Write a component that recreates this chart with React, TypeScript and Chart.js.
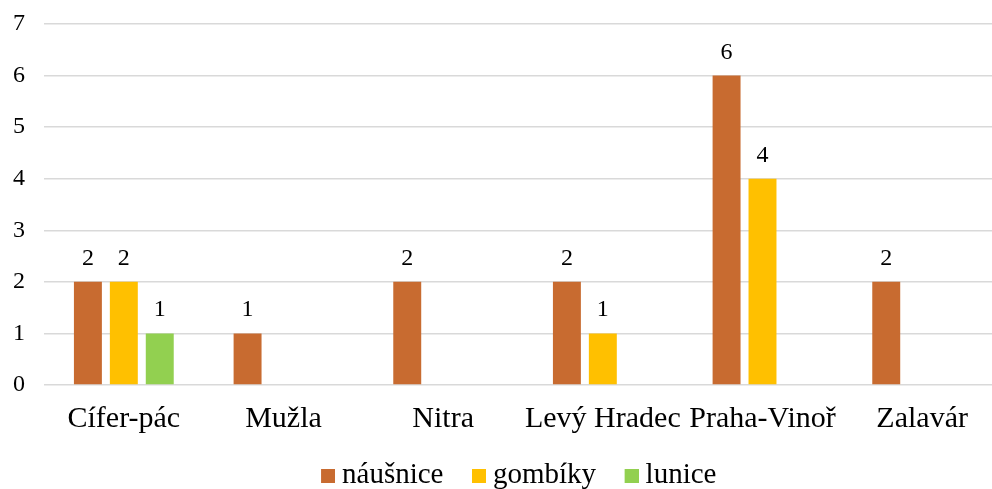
import React, { useEffect, useRef } from "react";
import { Chart, registerables } from "chart.js";

Chart.register(...registerables);

const categories = ["Cífer-pác", "Mužla", "Nitra", "Levý Hradec", "Praha-Vinoř", "Zalavár"];
const nausnice = [2, 1, 2, 2, 6, 2];
const gombiky = [2, null, null, 1, 4, null];
const lunice = [1, null, null, null, null, null];
const seriesNames = ["náušnice", "gombíky", "lunice"];
const seriesColors = ["#C86B30", "#FFC000", "#92D050"];

const FONT = "'Liberation Serif', 'Times New Roman', serif";

const valueLabels = {
  id: "valueLabels",
  afterDatasetsDraw(chart: any) {
    const ctx = chart.ctx;
    ctx.save();
    ctx.font = `24px ${FONT}`;
    ctx.fillStyle = "#000";
    ctx.textAlign = "center";
    ctx.textBaseline = "alphabetic";
    chart.data.datasets.forEach((ds: any, i: number) => {
      const meta = chart.getDatasetMeta(i);
      meta.data.forEach((bar: any, j: number) => {
        const v = ds.data[j];
        if (v === null || v === undefined) return;
        ctx.fillText(String(v), bar.x, bar.y - 17);
      });
    });
    ctx.restore();
  },
};

const legendShift = {
  id: "legendShift",
  afterLayout(chart: any) {
    if (chart.legend) {
      chart.legend.left += 33;
    }
  },
};

// swatch image: transparent left part, 14px coloured square at the right
function swatch(color: string) {
  const c = document.createElement("canvas");
  c.width = 24;
  c.height = 14;
  const g = c.getContext("2d")!;
  g.fillStyle = color;
  g.fillRect(10, 0, 14, 14);
  return c;
}

export default function App() {
  const ref = useRef<HTMLCanvasElement>(null);
  useEffect(() => {
    document.body.style.margin = "0";
    document.body.style.overflow = "hidden";
    const swatches = seriesColors.map(swatch);
    const chart = new Chart(ref.current!, {
      type: "bar",
      data: {
        labels: categories,
        datasets: [nausnice, gombiky, lunice].map((d, i) => ({
          label: seriesNames[i],
          data: d,
          backgroundColor: seriesColors[i],
          borderWidth: 0,
          categoryPercentage: 0.675,
          barPercentage: 0.778,
        })),
      },
      options: {
        animation: false,
        responsive: false,
        maintainAspectRatio: false,
        layout: { padding: { top: 24, right: 32, left: 0, bottom: -11 } },
        plugins: {
          tooltip: { enabled: false },
          legend: {
            position: "bottom",
            labels: {
              font: { family: FONT, size: 29 },
              color: "#000",
              usePointStyle: true,
              pointStyleWidth: 9,
              boxHeight: 14,
              padding: 26,
              generateLabels(chart: any) {
                const items = Chart.defaults.plugins.legend.labels.generateLabels(chart);
                return items.map((it: any, i: number) => ({ ...it, pointStyle: swatches[i] }));
              },
            },
          },
        },
        scales: {
          x: {
            grid: { display: false },
            border: { display: false },
            ticks: {
              font: { family: FONT, size: 30 },
              color: "#000",
              padding: 8,
              maxRotation: 0,
              autoSkip: false,
            },
            afterFit(scale: any) {
              scale.height = scale.height - 10;
            },
          },
          y: {
            min: 0,
            max: 7,
            grid: { color: "#D9D9D9", lineWidth: 1.5, drawTicks: false },
            border: { display: false },
            ticks: {
              stepSize: 1,
              font: { family: FONT, size: 24 },
              color: "#000",
              padding: 19,
            },
            afterFit(scale: any) {
              scale.width = 44;
              scale.paddingTop = 0;
              scale.paddingBottom = 0;
            },
          },
        },
      },
      plugins: [valueLabels, legendShift],
    });
    return () => chart.destroy();
  }, []);
  return (
    <div style={{ position: "absolute", left: 0, top: 0, width: 1034, height: 489 }}>
      <canvas ref={ref} width={1034} height={489} style={{ display: "block" }} />
    </div>
  );
}
